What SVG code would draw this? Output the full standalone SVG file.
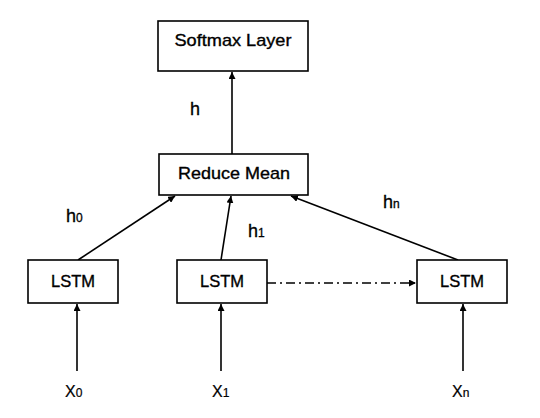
<svg xmlns="http://www.w3.org/2000/svg" width="540" height="418" viewBox="0 0 540 418">
<defs>
<marker id="arr" viewBox="0 0 10 10" refX="10" refY="5" markerWidth="7" markerHeight="7" markerUnits="userSpaceOnUse" orient="auto">
<path d="M0,0 L10,5 L0,10 z" fill="#000"/>
</marker>
<style>
.box{fill:#fff;stroke:#000;stroke-width:1.6}
.t{font-family:"Liberation Sans",Arial,sans-serif;font-size:17px;fill:#000;stroke:#000;stroke-width:0.35;text-anchor:middle}
.lbl{font-family:"Liberation Sans",Arial,sans-serif;font-size:18px;fill:#000;stroke:#000;stroke-width:0.3}
.sub{font-size:12px}
.c{stroke:#000;stroke-width:1.6;fill:none;marker-end:url(#arr)}
</style>
</defs>
<rect width="540" height="418" fill="#fff"/>
<g id="connectors">
<line class="c" x1="232" y1="154" x2="232" y2="72"/>
<line class="c" x1="78" y1="260" x2="175" y2="196"/>
<line class="c" x1="221" y1="260" x2="231" y2="196"/>
<line class="c" x1="458" y1="260" x2="291" y2="196"/>
<line class="c" x1="267" y1="283" x2="416" y2="283" stroke-dasharray="9,4,2,4"/>
<line class="c" x1="77" y1="371" x2="77" y2="304"/>
<line class="c" x1="221" y1="371" x2="221" y2="304"/>
<line class="c" x1="463" y1="371" x2="463" y2="304"/>
</g>
<g id="softmax">
<rect class="box" x="158" y="21" width="150" height="50"/>
<text class="t" x="233" y="46" textLength="117" lengthAdjust="spacingAndGlyphs">Softmax Layer</text>
</g>
<g id="reduce-mean">
<rect class="box" x="159" y="154" width="149" height="41"/>
<text class="t" x="234" y="179" textLength="112" lengthAdjust="spacingAndGlyphs">Reduce Mean</text>
</g>
<g id="lstm0">
<rect class="box" x="28" y="260" width="90" height="43"/>
<text class="t" x="73" y="287" textLength="44" lengthAdjust="spacingAndGlyphs">LSTM</text>
</g>
<g id="lstm1">
<rect class="box" x="177" y="260" width="90" height="43"/>
<text class="t" x="222" y="287" textLength="44" lengthAdjust="spacingAndGlyphs">LSTM</text>
</g>
<g id="lstmn">
<rect class="box" x="417" y="260" width="90" height="43"/>
<text class="t" x="462" y="287" textLength="44" lengthAdjust="spacingAndGlyphs">LSTM</text>
</g>
<g id="labels">
<text class="lbl" x="190" y="115">h</text>
<text class="lbl" x="66" y="222">h<tspan class="sub">0</tspan></text>
<text class="lbl" x="248" y="237">h<tspan class="sub">1</tspan></text>
<text class="lbl" x="383" y="208">h<tspan class="sub">n</tspan></text>
<text class="lbl" x="65" y="397" style="font-size:16px;stroke-width:0.2">X<tspan class="sub">0</tspan></text>
<text class="lbl" x="212" y="397" style="font-size:16px;stroke-width:0.2">X<tspan class="sub">1</tspan></text>
<text class="lbl" x="452" y="397" style="font-size:16px;stroke-width:0.2">X<tspan class="sub">n</tspan></text>
</g>
</svg>
